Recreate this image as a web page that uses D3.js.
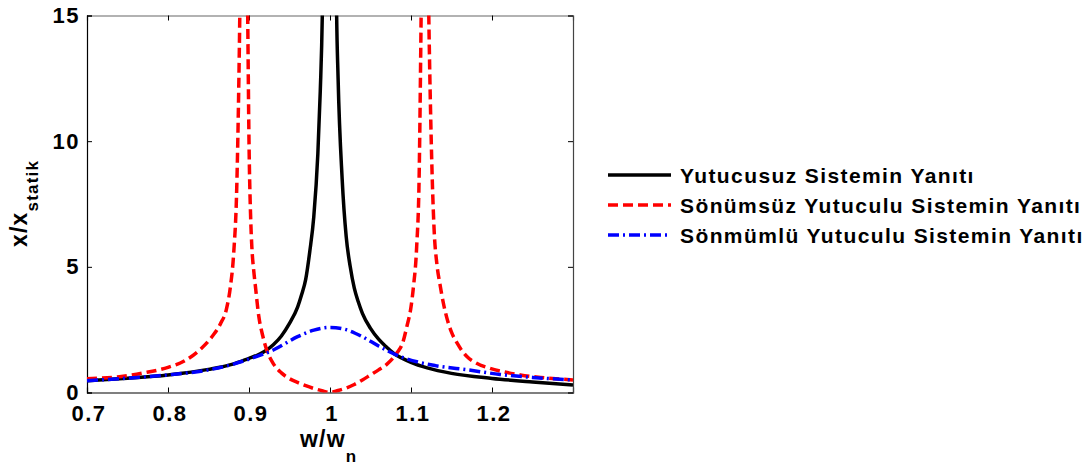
<!DOCTYPE html>
<html>
<head>
<meta charset="utf-8">
<script src="https://cdn.jsdelivr.net/npm/d3@7"></script>
<style>
  body { margin: 0; background: #fff; }
  svg { display: block; font-family: "Liberation Sans", Arial, sans-serif; }
  .tick text { font-size: 22px; font-weight: bold; fill: #000; letter-spacing: 1.5px; }
  .legend text { font-size: 21px; font-weight: bold; letter-spacing: 1.4px; }
  .axis-label { font-weight: bold; letter-spacing: 1.2px; }
</style>
</head>
<body>
<svg id="chart" width="1090" height="466"></svg>
<script>
// frequency ratio w/wn and amplitude ratio x/xstatik
const blackR = [0.70, 0.75, 0.80, 0.85, 0.88, 0.90, 0.91, 0.92, 0.93, 0.94, 0.95, 0.96, 0.965, 0.97, 0.975, 0.98, 0.985, 0.988, 0.9905, 0.995,
  1.005, 1.008, 1.01, 1.015, 1.02, 1.025, 1.03, 1.035, 1.04, 1.05, 1.06, 1.07, 1.08, 1.09, 1.10, 1.12, 1.15, 1.20, 1.25, 1.30];
const blackV = [0.47, 0.57, 0.70, 0.92, 1.13, 1.36, 1.48, 1.65, 1.9, 2.25, 2.75, 3.4, 3.9, 4.5, 5.6, 7.0, 9.5, 12.0, 15.0, 30,
  30, 15.5, 12.5, 8.5, 6.2, 5.0, 4.15, 3.6, 3.15, 2.55, 2.12, 1.8, 1.52, 1.35, 1.2, 0.98, 0.76, 0.56, 0.42, 0.30];

const redR = [0.70, 0.74, 0.77, 0.80, 0.82, 0.84, 0.855, 0.865, 0.872, 0.877, 0.881, 0.885, 0.888, 0.8905, 0.894,
  0.8984, 0.90, 0.902, 0.9035, 0.906, 0.908, 0.912, 0.917, 0.922, 0.93, 0.94, 0.95, 0.96, 0.97, 0.98, 0.99, 1.0,
  1.01, 1.02, 1.03, 1.04, 1.05, 1.06, 1.07, 1.0823, 1.09, 1.0947, 1.10, 1.103, 1.107, 1.11, 1.1125, 1.1168,
  1.1215, 1.125, 1.1285, 1.132, 1.1358, 1.14, 1.144, 1.15, 1.157, 1.169, 1.18, 1.1975, 1.215, 1.235, 1.26, 1.30];
const redV = [0.55, 0.63, 0.78, 1.0, 1.25, 1.72, 2.25, 2.75, 3.3, 4.2, 5.5, 8.3, 13.5, 20, 30,
  15, 10, 7, 5.8, 4.8, 4.2, 3.05, 2.25, 1.68, 1.15, 0.78, 0.55, 0.40, 0.27, 0.16, 0.07, 0.0,
  0.08, 0.18, 0.32, 0.5, 0.7, 0.9, 1.12, 1.56, 2.0, 2.6, 3.4, 4.2, 5.8, 8.5, 15, 30,
  16, 10, 6.5, 5.1, 4.3, 3.55, 3.0, 2.4, 1.96, 1.43, 1.18, 0.96, 0.82, 0.70, 0.6, 0.5];

const blueR = [0.70, 0.75, 0.80, 0.85, 0.88, 0.90, 0.93, 0.96, 0.98, 1.0, 1.02, 1.04, 1.06, 1.085, 1.11, 1.13, 1.17, 1.21, 1.25, 1.30];
const blueV = [0.47, 0.57, 0.70, 0.90, 1.12, 1.33, 1.69, 2.22, 2.48, 2.59, 2.50, 2.22, 1.85, 1.45, 1.2, 1.07, 0.9, 0.72, 0.6, 0.5];

const seriesNames = ['Yutucusuz Sistemin Yanıtı', 'Sönümsüz Yutuculu Sistemin Yanıtı', 'Sönmümlü Yutuculu Sistemin Yanıtı'];
const seriesColors = ['#000000', '#ff0000', '#0000ff'];
const seriesDash = [null, '10,5', '11,4,2,4'];

const xTicks = [0.7, 0.8, 0.9, 1, 1.1, 1.2];
const xTickLabels = ['0.7', '0.8', '0.9', '1', '1.1', '1.2'];
const yTicks = [0, 5, 10, 15];

const series = [
  blackR.map((r, i) => [r, blackV[i]]),
  redR.map((r, i) => [r, redV[i]]),
  blueR.map((r, i) => [r, blueV[i]])
];

const svg = d3.select('#chart');
const plotLeft = 87, plotRight = 573, plotTop = 15.5, plotBottom = 392.5;

const x = d3.scaleLinear().domain([0.7, 1.3]).range([plotLeft, plotRight]);
const y = d3.scaleLinear().domain([0, 15]).range([plotBottom, plotTop]);

svg.append('defs').append('clipPath').attr('id', 'plot-clip')
  .append('rect')
  .attr('x', plotLeft).attr('y', plotTop)
  .attr('width', plotRight - plotLeft).attr('height', plotBottom - plotTop);

// axes, ticks pointing inward
const xBottom = svg.append('g')
  .attr('transform', `translate(0,${plotBottom})`)
  .call(d3.axisBottom(x).tickValues(xTicks).tickFormat((d, i) => xTickLabels[i]).tickSize(-5).tickPadding(13));
xBottom.selectAll('.tick text').attr('dx', '0.07em');

const xTop = svg.append('g')
  .attr('transform', `translate(0,${plotTop})`)
  .call(d3.axisTop(x).tickValues(xTicks).tickFormat('').tickSize(-5));

svg.append('g')
  .attr('transform', `translate(${plotLeft},0)`)
  .call(d3.axisLeft(y).tickValues(yTicks).tickFormat(d3.format('d')).tickSize(-5).tickPadding(7));

const yRight = svg.append('g')
  .attr('transform', `translate(${plotRight},0)`)
  .call(d3.axisRight(y).tickValues(yTicks).tickFormat('').tickSize(-5));

svg.selectAll('.domain').attr('stroke', '#000').attr('stroke-width', 1.2);
xTop.select('.domain').attr('stroke', '#666');
yRight.select('.domain').attr('stroke', '#444');
svg.selectAll('.tick line').attr('stroke', '#000');

// curves
const line = d3.line()
  .x((d) => x(d[0]))
  .y((d) => y(d[1]))
  .curve(d3.curveMonotoneX);

const plot = svg.append('g').attr('clip-path', 'url(#plot-clip)');

series.forEach((data, i) => {
  plot.append('path')
    .datum(data)
    .attr('d', line)
    .attr('fill', 'none')
    .attr('stroke', seriesColors[i])
    .attr('stroke-width', 3.5)
    .attr('stroke-dasharray', seriesDash[i]);
});

// axis labels
const xLabel = svg.append('text')
  .attr('class', 'axis-label')
  .attr('x', 300).attr('y', 447)
  .attr('font-size', 23);
xLabel.append('tspan').text('w/w');
xLabel.append('tspan').attr('font-size', 17).attr('dy', 15).text('n');

const yLabel = svg.append('text')
  .attr('class', 'axis-label')
  .attr('transform', 'translate(27,247) rotate(-90)')
  .attr('font-size', 23);
yLabel.append('tspan').text('x/x');
yLabel.append('tspan').attr('font-size', 17).attr('dy', 11).text('statik');

// legend
const legend = svg.append('g').attr('class', 'legend');
seriesNames.forEach((name, i) => {
  const ly = 175 + i * 30;
  legend.append('line')
    .attr('x1', 608).attr('x2', 671)
    .attr('y1', ly).attr('y2', ly)
    .attr('stroke', seriesColors[i])
    .attr('stroke-width', 3.5)
    .attr('stroke-dasharray', seriesDash[i]);
  legend.append('text')
    .attr('x', 680).attr('y', ly + 8)
    .text(name);
});
</script>
</body>
</html>
